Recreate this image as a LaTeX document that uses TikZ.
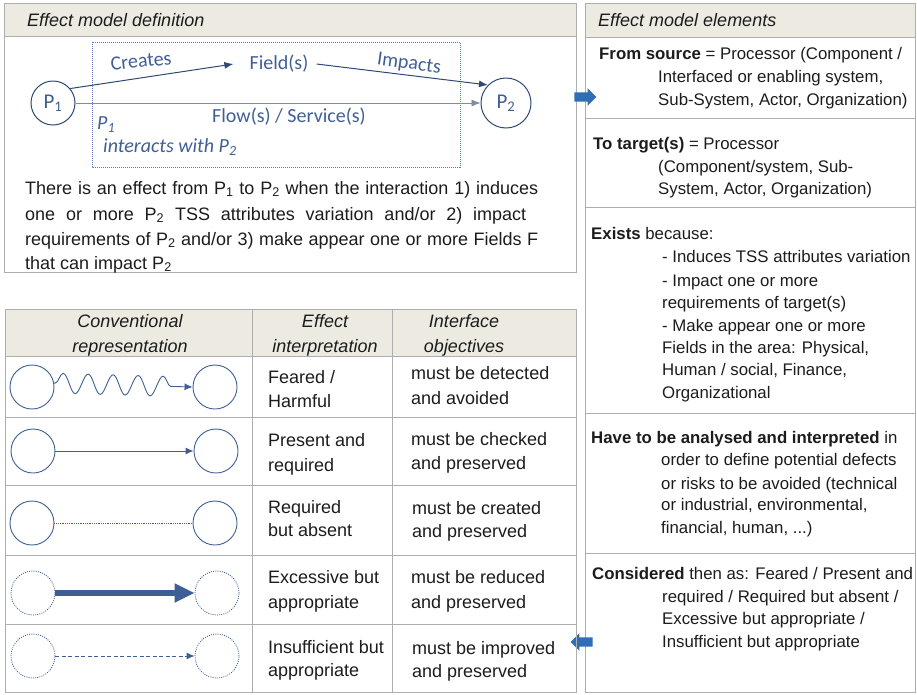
\documentclass[tikz,border=0pt]{standalone}
\usepackage{fontspec}
\setmainfont{Liberation Sans}
\newfontfamily\carlito{Carlito}
\usetikzlibrary{arrows.meta,decorations.pathmorphing,shapes.arrows}

\definecolor{gridgray}{HTML}{AEAEAE}
\definecolor{headbeige}{HTML}{EDEBE1}
\definecolor{ink}{HTML}{1C1C1C}
\definecolor{diagblue}{HTML}{3F5F96}
\definecolor{navy}{HTML}{2C4A72}
\definecolor{flowblue}{HTML}{7A8CA8}
\definecolor{boxdot}{HTML}{5C7DB3}
\definecolor{circblue}{HTML}{3E5F94}
\definecolor{blockblue}{HTML}{2F6DB5}

\newcommand{\fsz}[1]{\fontsize{#1}{#1}\selectfont}

\begin{document}
\begin{tikzpicture}[x=1pt,y=-1pt,
  frame/.style={draw=gridgray, line width=1pt},
  headband/.style={fill=headbeige, draw=gridgray, line width=1pt},
  ptxt/.style={anchor=base west, inner sep=0pt, text=ink, font=\fsz{16.8}},
  ttxt/.style={anchor=base west, inner sep=0pt, text=ink, font=\fsz{18}},
  thead/.style={anchor=base, inner sep=0pt, text=ink, font=\fsz{18}\itshape},
  titletxt/.style={anchor=base west, inner sep=0pt, text=ink, font=\fsz{18}\itshape},
  btxt/.style={anchor=base west, inner sep=0pt, text=ink, font=\fsz{18}},
  dlbl/.style={inner sep=0pt, text=diagblue, font=\carlito\fsz{20}},
  proc/.style={circle, draw=navy, line width=1pt, text=diagblue, font=\carlito\fsz{21}, inner sep=0pt},
  link/.style={draw=navy, line width=1pt, -{Latex[length=9pt,width=7pt]}},
  flow/.style={draw=flowblue, line width=0.7pt, -{Latex[length=9pt,width=7pt]}},
  tc/.style={circle, draw=circblue, line width=0.9pt, minimum size=44pt, inner sep=0pt},
  tcdot/.style={tc, line width=0.8pt, dash pattern=on 1pt off 1.2pt},
  tarrow/.style={draw=circblue, line width=0.9pt, -{Latex[length=8pt,width=7pt]}},
  blockarrow/.style={single arrow, fill=blockblue, draw=none, inner xsep=0pt,
    inner ysep=4.5pt, minimum height=22pt, single arrow head extend=4pt,
    single arrow head indent=0pt},
]
\useasboundingbox (0,0) rectangle (917,694);

% ---------- Effect model definition ----------
\draw[frame] (4,3) rectangle (576,272);
\filldraw[headband] (4,3) rectangle (576,36);
\node[titletxt] (defhead) at (27,26) {Effect model definition};

\draw[boxdot, line width=0.8pt, dash pattern=on 1pt off 1pt] (92,42) rectangle (460,167);

\node[proc, minimum size=44pt] (p1) at (53,103) {P\textsubscript{1}};
\node[proc, minimum size=50pt] (p2) at (506,103) {P\textsubscript{2}};
\node[dlbl, inner xsep=4pt] (field) at (279,64) {Field(s)};

\draw[link] (p1.40) -- ([xshift=-12pt]field.west);
\draw[link] ([xshift=4pt]field.east) -- (p2.135);
\draw[flow] (p1.east) -- (p2.west);

\node[dlbl, rotate=6] (creates) at (141,61) {Creates};
\node[dlbl, rotate=-8] (impacts) at (409,64) {Impacts};
\node[dlbl] (flowlbl) at (289,117) {Flow(s) / Service(s)};
\node[dlbl, anchor=base west, font=\carlito\fsz{20}\itshape] (p1it) at (97,129) {P\textsubscript{1}};
\node[dlbl, anchor=base west, font=\carlito\fsz{20}\itshape] (interacts) at (103,152) {interacts with P\textsubscript{2}};

\node[btxt] (d1) at (25,194) {\makebox[513pt][s]{There is an effect from P\textsubscript{1} to P\textsubscript{2} when the interaction 1) induces}};
\node[btxt] (d2) at (25,220) {\makebox[501pt][s]{one or more P\textsubscript{2} TSS attributes variation and/or 2) impact}};
\node[btxt] (d3) at (25,245) {\makebox[513pt][s]{requirements of P\textsubscript{2} and/or 3) make appear one or more Fields F}};
\node[btxt] (d4) at (25,269) {that can impact P\textsubscript{2}};

% ---------- Effect model elements ----------
\draw[frame] (585,3) rectangle (915,692);
\filldraw[headband] (585,3) rectangle (915,37);
\node[titletxt] (elhead) at (598,26) {Effect model elements};
\foreach \yy in {118,207,413,553} \draw[frame] (585,\yy) -- (915,\yy);

\node[ptxt] (e1a) at (599,59) {\bfseries From source\mdseries{} = Processor (Component /};
\node[ptxt] (e1b) at (658,82) {Interfaced or enabling system,};
\node[ptxt] (e1c) at (658,105) {Sub-System, Actor, Organization)};

\node[ptxt] (e2a) at (593,149) {\bfseries To target(s)\mdseries{} = Processor};
\node[ptxt] (e2b) at (658,172) {(Component/system, Sub-};
\node[ptxt] (e2c) at (658,194) {System, Actor, Organization)};

\node[ptxt] (e3a) at (591,239) {\bfseries Exists\mdseries{} because:};
\node[ptxt] (e3b) at (662,262) {- Induces TSS attributes variation};
\node[ptxt] (e3c) at (662,286) {- Impact one or more};
\node[ptxt] (e3d) at (662,308) {requirements of target(s)};
\node[ptxt] (e3e) at (662,331) {- Make appear one or more};
\node[ptxt] (e3f) at (662,353) {Fields in the area: Physical,};
\node[ptxt] (e3g) at (662,375) {Human / social, Finance,};
\node[ptxt] (e3h) at (662,398) {Organizational};

\node[ptxt] (e4a) at (591,443) {\bfseries Have to be analysed and interpreted\mdseries{} in};
\node[ptxt] (e4b) at (661,465) {order to define potential defects};
\node[ptxt] (e4c) at (661,489) {or risks to be avoided (technical};
\node[ptxt] (e4d) at (661,510) {or industrial, environmental,};
\node[ptxt] (e4e) at (661,533) {financial, human, ...)};

\node[ptxt] (e5a) at (592,579) {\bfseries Considered\mdseries{} then as: Feared / Present and};
\node[ptxt] (e5b) at (662,602) {required / Required but absent /};
\node[ptxt] (e5c) at (662,624) {Excessive but appropriate /};
\node[ptxt] (e5d) at (662,647) {Insufficient but appropriate};

\node[blockarrow] (toelements) at (583,97) {};
\node[blockarrow, shape border rotate=180] (totable) at (584,642) {};

% ---------- Conventional representation table ----------
\fill[headbeige] (5,309) rectangle (576,356);
\draw[frame] (5,309) rectangle (576,692);
\foreach \yy in {356,417,485,555,624} \draw[frame] (5,\yy) -- (576,\yy);
\foreach \xx in {252,392} \draw[frame] (\xx,309) -- (\xx,692);

\node[thead] (h1a) at (130,327) {Conventional};
\node[thead] (h1b) at (130,352) {representation};
\node[thead] (h2a) at (325,327) {Effect};
\node[thead] (h2b) at (325,352) {interpretation};
\node[thead] (h3a) at (464,327) {Interface};
\node[thead] (h3b) at (464,352) {objectives};

\node[ttxt] (r1a) at (268,383) {Feared /};
\node[ttxt] (r1b) at (268,407) {Harmful};
\node[ttxt] (r1c) at (411,379) {must be detected};
\node[ttxt] (r1d) at (411,404) {and avoided};

\node[ttxt] (r2a) at (268,446) {Present and};
\node[ttxt] (r2b) at (268,471) {required};
\node[ttxt] (r2c) at (411,445) {must be checked};
\node[ttxt] (r2d) at (411,469) {and preserved};

\node[ttxt] (r3a) at (268,513) {Required};
\node[ttxt] (r3b) at (268,536) {but absent};
\node[ttxt] (r3c) at (412,514) {must be created};
\node[ttxt] (r3d) at (412,537) {and preserved};

\node[ttxt] (r4a) at (268,583) {Excessive but};
\node[ttxt] (r4b) at (268,608) {appropriate};
\node[ttxt] (r4c) at (411,583) {must be reduced};
\node[ttxt] (r4d) at (411,608) {and preserved};

\node[ttxt] (r5a) at (268,653) {Insufficient but};
\node[ttxt] (r5b) at (268,676) {appropriate};
\node[ttxt] (r5c) at (412,654) {must be improved};
\node[ttxt] (r5d) at (412,677) {and preserved};

% row symbols
\node[tc] (a1) at (32,387) {};
\node[tc] (b1) at (215,387) {};
\draw[tarrow, decorate, decoration={snake, segment length=25pt, amplitude=10pt, pre length=1pt, post length=12pt}] (a1.10) -- (b1.west);

\node[tc] (a2) at (33,451) {};
\node[tc] (b2) at (216,451) {};
\draw[tarrow] (a2.east) -- (b2.west);

\node[tc] (a3) at (32,523) {};
\node[tc] (b3) at (215,523) {};
\draw[draw=circblue, line width=0.7pt, dash pattern=on 0.8pt off 1pt] (a3.east) -- (b3.west);

\node[tcdot] (a4) at (33,593) {};
\node[tcdot] (b4) at (217,593) {};
\draw[draw=circblue, line width=6pt, -{Triangle[length=20pt,width=18pt]}] (a4.east) -- (b4.west);

\node[tcdot] (a5) at (33,656) {};
\node[tcdot] (b5) at (217,656) {};
\draw[tarrow, dash pattern=on 4pt off 2.5pt] (a5.east) -- (b5.west);
\end{tikzpicture}
\end{document}
